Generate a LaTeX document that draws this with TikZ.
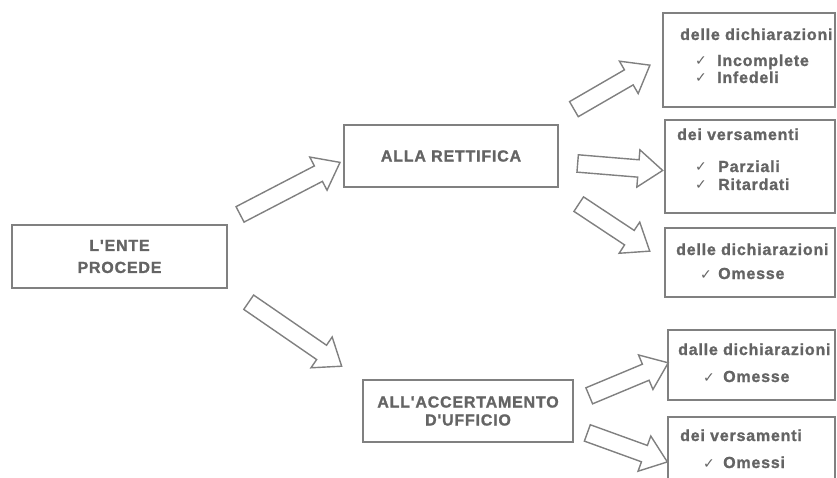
\documentclass[tikz,border=0pt]{standalone}
\usepackage{fontspec}
\usetikzlibrary{shapes.arrows,calc}
\newfontfamily\boxfont{Liberation Sans}[LetterSpace=5,BoldFeatures={FakeBold=1.2}]
\newfontfamily\checkfont{DejaVu Sans}
\definecolor{linegray}{RGB}{128,128,128}
\definecolor{textgray}{RGB}{100,100,100}
\tikzset{
  box/.style={draw=linegray, line width=1.4pt, rectangle, inner sep=0pt},
  boxtext/.style={text=textgray, font=\boxfont\bfseries\fontsize{16}{22}\selectfont, inner sep=0pt},
  blockarrow/.style={single arrow, draw=linegray, fill=white, line width=1.4pt,
    single arrow head extend=10pt, single arrow tip angle=75,
    single arrow head indent=0pt, inner xsep=0pt, inner ysep=8pt}
}
\newcommand\ckitem[2]{\makebox[#1][l]{\checkfont\bfseries\fontsize{14}{14}\selectfont\char"2713}#2}

\begin{document}
\begin{tikzpicture}[x=1pt,y=-1pt]
\useasboundingbox (0,0) rectangle (837,478);
\clip (0,0) rectangle (837,478);
% boxes in the middle
\node[box, boxtext, align=center, minimum width=215pt, minimum height=63pt] (ente) at (119.5,256.5) {L'ENTE\\PROCEDE};
\node[box, boxtext, align=center, minimum width=214pt, minimum height=62pt] (rettifica) at (451,156) {ALLA RETTIFICA};
\node[box, boxtext, align=center, minimum width=210pt, minimum height=62pt] (ufficio) at (468,411) {ALL'ACCERTAMENTO\\[-4pt]D'UFFICIO};

% boxes on the right
\draw[box] (663,13) rectangle (835,107);
\draw[box] (665,120) rectangle (835,213);
\draw[box] (665,228) rectangle (835,297);
\draw[box] (668,330) rectangle (835,400);
\draw[box] (668,417) rectangle (835,495);

\node[boxtext, anchor=base west] (r1title) at (680,40) {delle dichiarazioni};
\node[boxtext, anchor=base west] (r1a) at (695,66) {\ckitem{22pt}{Incomplete}};
\node[boxtext, anchor=base west] (r1b) at (695,83) {\ckitem{22pt}{Infedeli}};

\node[boxtext, anchor=base west] (r2title) at (677,140) {dei versamenti};
\node[boxtext, anchor=base west] (r2a) at (695,172) {\ckitem{23pt}{Parziali}};
\node[boxtext, anchor=base west] (r2b) at (695,190) {\ckitem{23pt}{Ritardati}};

\node[boxtext, anchor=base west] (r3title) at (676,255) {delle dichiarazioni};
\node[boxtext, anchor=base west] (r3a) at (700,279) {\ckitem{18pt}{Omesse}};

\node[boxtext, anchor=base west] (r4title) at (678,355) {dalle dichiarazioni};
\node[boxtext, anchor=base west] (r4a) at (703,382) {\ckitem{20pt}{Omesse}};

\node[boxtext, anchor=base west] (r5title) at (680,441) {dei versamenti};
\node[boxtext, anchor=base west] (r5a) at (703,468) {\ckitem{20pt}{Omessi}};

% block arrows
\coordinate (a1t) at (235,217);  \coordinate (a1h) at (335,165);
\coordinate (a2t) at (244,299);  \coordinate (a2h) at (337,363);
\coordinate (a3t) at (569,112);  \coordinate (a3h) at (645,68);
\coordinate (a4t) at (572,163);  \coordinate (a4h) at (657,170);
\coordinate (a5t) at (574,201);  \coordinate (a5h) at (645,248);
\coordinate (a6t) at (584,398);  \coordinate (a6h) at (663,365);
\coordinate (a7t) at (582,431);  \coordinate (a7h) at (662,460);

\foreach \a in {a1,a2,a3,a4,a5,a6,a7}
{
\path let \p1=($(\a h)-(\a t)$), \n1={veclen(\x1,\y1)} in
  (\a t) -- node[blockarrow, sloped, minimum height=\n1] (\a arrow) {} (\a h);
}
\end{tikzpicture}
\end{document}
